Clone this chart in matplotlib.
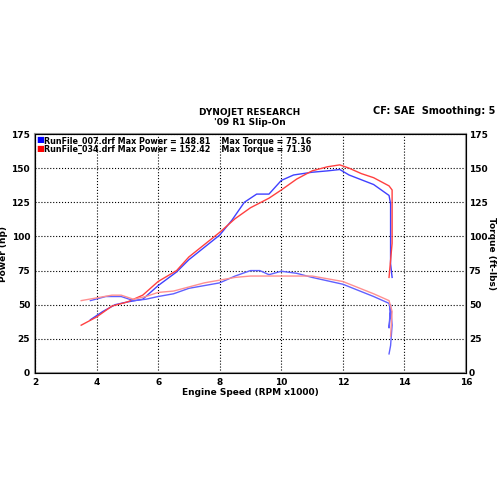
import matplotlib
matplotlib.use("Agg")
import matplotlib.pyplot as plt

bp_x=[3.8,4.2,4.6,5,5.5,6,6.6,7,7.5,8,8.4,8.8,9.2,9.6,10,10.4,11,11.5,11.9,12.2,13,13.5,13.55,13.55,13.6]
bp_y=[39,45,50,52,54,64,74,83,92,101,112,125,131,131,141,145,147,148,149,145,138,130,124,80,70]
rp_x=[3.5,4,4.5,5,5.5,6,6.6,7,7.5,8,8.5,9,9.6,10,10.5,11,11.5,11.9,12.2,12.6,13,13.5,13.6,13.6,13.5]
rp_y=[35,41,49,52,57,67,75,85,94,103,113,121,128,134,142,148,151,152.4,150,146,143,137,134,95,70]
bt_x=[3.8,4.3,4.8,5.2,5.6,6,6.5,7,7.5,8,8.5,9,9.3,9.6,10,10.5,11,12,13,13.5,13.55,13.5,13.55,13.6,13.55,13.5]
bt_y=[53,56,56,53,54,56,58,62,64,66,71,75,75,72,74.5,73,70,65,56,51,45,33,50,35,20,14]
rt_x=[3.5,4,4.5,4.8,5.2,5.6,6,6.5,7,7.5,8,8.5,9,10,11,12,13,13.5,13.6,13.55]
rt_y=[53,55,57,57,54,56,59,60,63,66,68,70,71,71,71,67,58,53,45,27]

fig=plt.figure(figsize=(5,5),dpi=100)
ax=fig.add_axes([0.07,0.254,0.862,0.478])
fb=dict(fontsize=6.5,fontweight='bold')
ax.plot(bp_x,bp_y,color='#4040ff',lw=1)
ax.plot(rp_x,rp_y,color='#ff4040',lw=1)
ax.plot(bt_x,bt_y,color='#6060ff',lw=1)
ax.plot(rt_x,rt_y,color='#ff9090',lw=1)
ax.set_xlim(2,16); ax.set_ylim(0,175)
ax.set_xticks(range(2,17,2)); ax.set_yticks(range(0,176,25))
ax.grid(True,ls=':',color='black',lw=0.8)
for s in ax.spines.values(): s.set_color('#999999'); s.set_linewidth(1.5)
ax.tick_params(labelsize=6.5,length=0)
for l in ax.get_xticklabels()+ax.get_yticklabels(): l.set_fontweight('bold')
ax2=ax.twinx(); ax2.set_ylim(0,175); ax2.set_yticks(range(0,176,25))
ax2.tick_params(labelsize=6.5,length=0,pad=2)
for l in ax2.get_yticklabels(): l.set_fontweight('bold')
ax2.set_ylabel('Torque (ft-lbs)',rotation=270,labelpad=6,**fb)
ax.set_ylabel('Power (hp)',labelpad=2,**fb)
ax.set_xlabel('Engine Speed (RPM x1000)',labelpad=1,**fb)
fig.text(0.5,0.77,'DYNOJET RESEARCH',ha='center',**fb)
fig.text(0.5,0.75,"'09 R1 Slip-On",ha='center',**fb)
fig.text(0.99,0.772,'CF: SAE  Smoothing: 5',ha='right',fontsize=7,fontweight='bold')
ax.text(0.003,0.995,'\u25a0',color='blue',transform=ax.transAxes,va='top',fontsize=6)
ax.text(0.003,0.96,'\u25a0',color='red',transform=ax.transAxes,va='top',fontsize=6)
ax.text(0.022,0.99,'RunFile_007.drf Max Power = 148.81    Max Torque = 75.16',transform=ax.transAxes,va='top',fontsize=5.8,fontweight='bold')
ax.text(0.022,0.955,'RunFile_034.drf Max Power = 152.42    Max Torque = 71.30',transform=ax.transAxes,va='top',fontsize=5.8,fontweight='bold')
fig.savefig('out.png')
